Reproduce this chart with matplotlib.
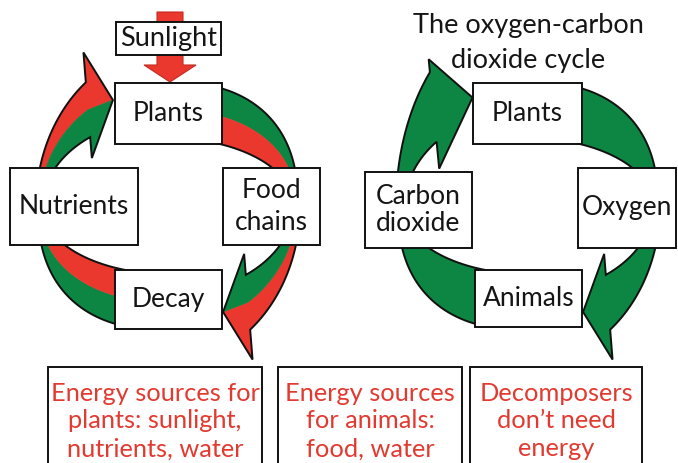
"""
Energy flow vs. oxygen-carbon dioxide cycle diagram
"""

import numpy as np
import matplotlib.pyplot as plt
from matplotlib.patches import Polygon, Rectangle, FancyArrow

plt.rcParams["font.family"] = ["Lato", "DejaVu Sans"]

RED = "#EA382E"
GREEN = "#0C8642"
EDGE = "#111111"
TEXT_RED = "#E23A30"

# labels
left_labels = ["Plants", "Food\nchains", "Decay", "Nutrients"]
right_labels = ["Plants", "Oxygen", "Animals", "Carbon\ndioxide"]
sun_label = "Sunlight"
title_lines = ["The oxygen-carbon", "dioxide cycle"]
note_labels = [
    "Energy sources for\nplants: sunlight,\nnutrients, water",
    "Energy sources\nfor animals:\nfood, water",
    "Decomposers\ndon\u2019t need\nenergy",
]

# layout (pixels, x0, y0, x1, y1), same order as the labels
left_boxes = [(115, 83, 222, 144), (223, 168, 320, 245),
              (115, 270, 222, 329), (10, 168, 138, 245)]
left_spacing = [1.2, 1.4, 1.2, 1.2]
right_boxes = [(473, 83, 582, 144), (578, 168, 676, 248),
               (475, 270, 582, 327), (365, 172, 472, 248)]
right_spacing = [1.2, 1.2, 1.2, 1.1]
sun_box = (116, 22, 221, 55)
note_boxes = [(48, 367, 262, 475), (278, 367, 462, 475), (470, 367, 642, 475)]

# arrow head shapes (shaft ellipses, head base angle, barbs, tip)
head_small = dict(ao=132, bo=158, ai=125, bi=88, tb=128.5,
                  barb_o=30, barb_i=21, f=0.36, tip=25.6)
head_big = dict(ao=132, bo=200, ai=123, bi=96, tb=138,
                barb_o=13, barb_i=27, f=0.42, tip=40)


def ell(a, b, t, n=2.0):
    c, s = np.cos(t), np.sin(t)
    e = 2.0 / n
    return np.column_stack([a * np.sign(c) * np.abs(c) ** e,
                            b * np.sign(s) * np.abs(s) ** e])


def band_parts():
    t = np.radians(np.linspace(75, -5, 80))
    out = ell(130, 124, t, 2.4)
    inn = ell(126, 68, t)
    mid = (out + inn) / 2
    outline = np.vstack([out, inn[::-1]])
    return outline, np.vstack([out, mid[::-1]]), np.vstack([mid, inn[::-1]])


def arrow_parts(h):
    t = np.radians(np.linspace(190, h["tb"], 80))
    out = ell(h["ao"], h["bo"], t)
    inn = ell(h["ai"], h["bi"], t)
    mid = (out + inn) / 2
    po, pi = out[-1], inn[-1]
    d = (pi - po) / np.hypot(*(pi - po))
    perp = np.array([-d[1], d[0]])
    tip = po + h["f"] * (pi - po) + h["tip"] * perp
    bo = po - h["barb_o"] * d
    bi = pi + h["barb_i"] * d
    outline = np.vstack([out, bo, tip, bi, inn[::-1]])
    outer_half = np.vstack([out, bo, tip, mid[::-1]])
    inner_half = np.vstack([mid, tip, bi, inn[::-1]])
    return outline, outer_half, inner_half


def draw_cycle(ax, cx, cy, tl_head, br_head, two_tone):
    pieces = [
        (band_parts(), 1, GREEN, RED),
        (band_parts(), -1, GREEN, RED),
        (arrow_parts(tl_head), 1, RED, GREEN),
        (arrow_parts(br_head), -1, RED, GREEN),
    ]
    for (outline, oh, ih), sgn, c_out, c_in in pieces:
        def tr(p):
            return np.column_stack([cx + sgn * p[:, 0], cy - sgn * p[:, 1]])
        if two_tone:
            ax.add_patch(Polygon(tr(oh), closed=True, fc=c_out, ec=c_out, lw=0.4, zorder=1))
            ax.add_patch(Polygon(tr(ih), closed=True, fc=c_in, ec=c_in, lw=0.4, zorder=1))
            ax.add_patch(Polygon(tr(outline), closed=True, fc="none", ec=EDGE, lw=1.4, zorder=2))
        else:
            ax.add_patch(Polygon(tr(outline), closed=True, fc=GREEN, ec=EDGE, lw=1.4, zorder=1))


def draw_box(ax, box, label, color="#151515", size=19, spacing=1.2, ty=None):
    x0, y0, x1, y1 = box
    ax.add_patch(Rectangle((x0, y0), x1 - x0, y1 - y0, fc="white",
                           ec=EDGE, lw=1.4, zorder=3))
    if ty is None:
        ty = (y0 + y1) / 2
    ax.text((x0 + x1) / 2, ty, label, ha="center", va="center",
            fontsize=size, color=color, linespacing=spacing, zorder=4)


fig = plt.figure(figsize=(6.78, 4.63), dpi=100)
ax = fig.add_axes([0, 0, 1, 1])
ax.set_xlim(0, 678)
ax.set_ylim(463, 0)
ax.set_aspect("equal")
ax.axis("off")

# cycles
draw_cycle(ax, 168, 206, head_small, head_small, True)
draw_cycle(ax, 528, 206, head_big, head_small, False)

# sunlight arrow
ax.add_patch(FancyArrow(170, 12, 0, 70, width=26, head_width=52, head_length=17,
                        length_includes_head=True, fc=RED, ec="#C42A20", lw=0.8, zorder=2))
draw_box(ax, sun_box, sun_label, size=19.5)

for box, label, sp in zip(left_boxes, left_labels, left_spacing):
    draw_box(ax, box, label, spacing=sp)
for box, label, sp in zip(right_boxes, right_labels, right_spacing):
    draw_box(ax, box, label, spacing=sp)
for box, label in zip(note_boxes, note_labels):
    draw_box(ax, box, label, color=TEXT_RED, size=18.3, spacing=1.25, ty=421)

ax.text(528, 33, title_lines[0], ha="center", va="baseline", fontsize=19.5, color="#151515")
ax.text(528, 68, title_lines[1], ha="center", va="baseline", fontsize=19.5, color="#151515")

fig.savefig("out.png", dpi=100)
